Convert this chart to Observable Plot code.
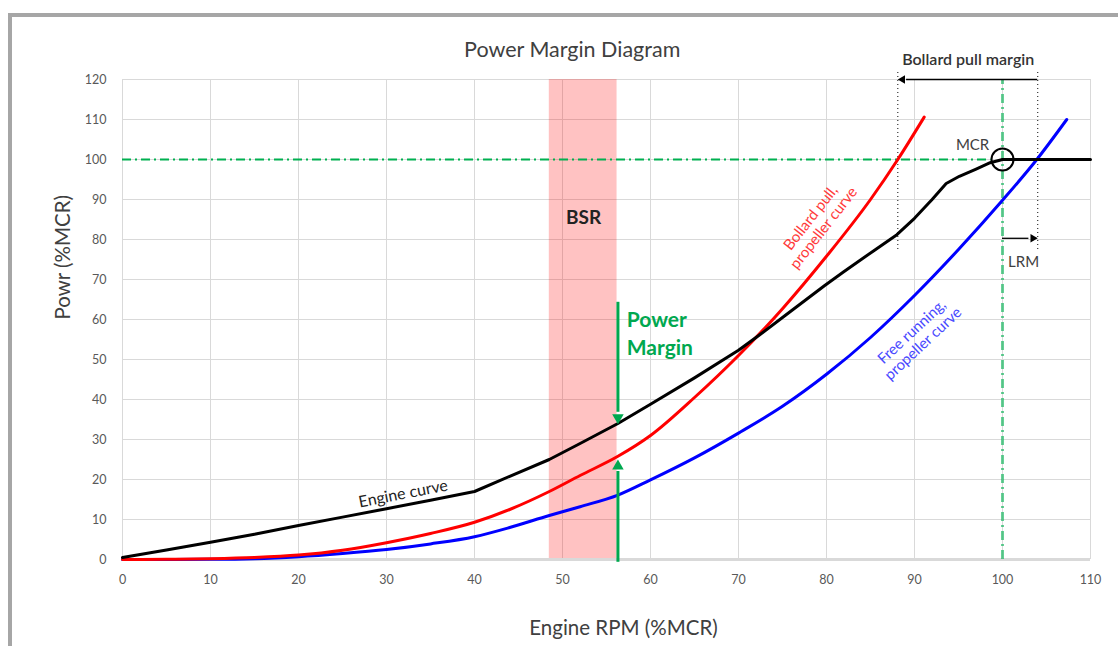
<!DOCTYPE html>
<html><head><meta charset="utf-8">
<script src="https://cdn.jsdelivr.net/npm/d3@7"></script>
<script src="https://cdn.jsdelivr.net/npm/@observablehq/plot@0.6"></script>
<style>
html,body{margin:0;padding:0;background:#fff;overflow:hidden;width:1118px;height:646px}
#frame{position:absolute;left:8px;top:13px;width:1200px;height:700px;border:4px solid #a6a6a6;box-sizing:border-box}
#chart{position:absolute;left:0;top:0}
</style></head><body>
<div id="frame"></div>
<div id="chart"></div>
<script>
// Data
const xTicks = [0, 10, 20, 30, 40, 50, 60, 70, 80, 90, 100, 110];
const yTicks = [0, 10, 20, 30, 40, 50, 60, 70, 80, 90, 100, 110, 120];

const engineRpm   = [0, 5, 10, 15, 20, 25, 30, 35, 40, 44, 48.5, 52, 56.3, 60, 65, 70, 72.3, 75.3, 79.8, 82, 85.5, 88, 90, 92, 93.6, 95.1, 97, 98.6, 100, 105, 110];
const enginePower = [0.5, 2.4, 4.3, 6.3, 8.5, 10.6, 12.7, 14.8, 17, 20.8, 25, 29, 34, 38.8, 45.4, 52.3, 56, 61, 68.5, 72, 77.4, 81.2, 85.3, 90, 94, 95.8, 97.6, 99.2, 100, 100, 100];

const bollardRpm   = [0, 5, 10, 15, 20, 25, 30, 35, 40, 44, 48.5, 52, 56.3, 60, 65, 70, 75, 80, 85, 88.1, 91.1];
const bollardPower = [0, 0.05, 0.2, 0.5, 1.1, 2.3, 4.2, 6.5, 9.3, 12.5, 17, 21, 25.8, 31, 40.5, 51, 62.7, 75.8, 90, 100, 110.6];

const freeRpm   = [0, 10, 15, 20, 25, 30, 35, 40, 44, 48.5, 52, 56.3, 60, 65, 70, 75, 80, 85, 90, 95, 100, 103.9, 107.3];
const freePower = [0, 0.05, 0.2, 0.7, 1.5, 2.5, 3.9, 5.7, 8, 11, 13.2, 16.1, 19.9, 25.4, 31.6, 38.3, 46.3, 55.5, 66, 77.5, 89.8, 100, 110];

const bsrRange = [48.5, 56.2];
const mcrPoint = [100, 100];
const bollardMarginRpm = [88.1, 104];
const lrmRpm = [100, 104];
const powerMarginRpm = 56.3;
const powerMarginTop = [64.3, 33.8];
const powerMarginBottom = [-0.7, 25];

const FONT = "Lato, 'Open Sans', sans-serif";
const green = "#00b050";
const arrowGreen = "#00a84f";

// pixel offsets converted to data units for arrow-head centroids
const yUnit = 120 / 480, xUnit = 110 / 968;

const chart = Plot.plot({
  width: 1118,
  height: 646,
  marginLeft: 122,
  marginRight: 28,
  marginTop: 79,
  marginBottom: 87,
  style: {fontFamily: FONT, background: "transparent", overflow: "visible"},
  x: {domain: [0, 110]},
  y: {domain: [0, 120]},
  marks: [
    // grid
    Plot.ruleY(yTicks, {stroke: "#d9d9d9", strokeWidth: 1}),
    Plot.ruleX(xTicks, {y1: 0, y2: 120, stroke: "#d9d9d9", strokeWidth: 1}),
    // BSR band
    Plot.rect([bsrRange], {x1: d => d[0], x2: d => d[1], y1: 0, y2: 120, fill: "#ff0000", fillOpacity: 0.24}),
    // x-axis baseline
    Plot.ruleY([0], {stroke: "#d9d9d9", strokeWidth: 3}),
    // MCR reference lines
    Plot.ruleY([mcrPoint[1]], {x1: 0, x2: 98.7, stroke: green, strokeWidth: 2, strokeDasharray: "9,4,2,4"}),
    Plot.ruleX([mcrPoint[0]], {y1: 0, y2: 120, stroke: green, strokeOpacity: 0.6, strokeWidth: 3, strokeDasharray: "9,4,2,4"}),
    // bollard pull margin dotted verticals
    Plot.ruleX(bollardMarginRpm, {y1: 77.5, y2: 122, stroke: "#333", strokeWidth: 1.2, strokeDasharray: "1,3"}),
    // curves
    Plot.line(freePower, {x: freeRpm, y: freePower, stroke: "#0000ff", strokeWidth: 3, curve: "monotone-x"}),
    Plot.line(bollardPower, {x: bollardRpm, y: bollardPower, stroke: "#ff0000", strokeWidth: 3, curve: "monotone-x"}),
    Plot.line(enginePower, {x: engineRpm, y: enginePower, stroke: "#000", strokeWidth: 3}),
    // MCR circle
    Plot.dot([mcrPoint], {x: d => d[0], y: d => d[1], r: 11, stroke: "#000", strokeWidth: 2, fill: "none"}),
    // black margin arrows (shaft + filled head)
    Plot.ruleY([120], {x1: bollardMarginRpm[0] + 1, x2: bollardMarginRpm[1], stroke: "#000", strokeWidth: 1.3}),
    Plot.dot([bollardMarginRpm], {x: d => d[0] + 4.8 * xUnit, y: 120, symbol: "triangle2", r: 4, rotate: -90, fill: "#000"}),
    Plot.ruleY([80.3], {x1: lrmRpm[0], x2: lrmRpm[1] - 1, stroke: "#000", strokeWidth: 1.3}),
    Plot.dot([lrmRpm], {x: d => d[1] - 4.8 * xUnit, y: 80.3, symbol: "triangle2", r: 4, rotate: 90, fill: "#000"}),
    // green power-margin arrows
    Plot.ruleX([powerMarginRpm], {y1: powerMarginTop[0], y2: powerMarginTop[1] + 3, stroke: arrowGreen, strokeWidth: 3}),
    Plot.dot([powerMarginTop], {x: powerMarginRpm, y: d => d[1] + 6.6 * yUnit, symbol: "triangle2", r: 5.5, rotate: 180, fill: arrowGreen}),
    Plot.ruleX([powerMarginRpm], {y1: powerMarginBottom[0], y2: powerMarginBottom[1] - 3, stroke: arrowGreen, strokeWidth: 3}),
    Plot.dot([powerMarginBottom], {x: powerMarginRpm, y: d => d[1] - 6.6 * yUnit, symbol: "triangle2", r: 5.5, fill: arrowGreen}),
    // axes
    Plot.axisX(xTicks, {tickSize: 0, tickPadding: 16, fontSize: 12.5, fill: "#595959", label: null}),
    Plot.axisY(yTicks, {tickSize: 0, tickPadding: 16, fontSize: 12.5, fill: "#595959", label: null}),
    // annotations
    Plot.text(["Power Margin Diagram"], {x: 51.1, y: 127.25, fontSize: 21.5, fill: "#404040"}),
    Plot.text(["Engine RPM (%MCR)"], {frameAnchor: "bottom", dx: 17, dy: 75, fontSize: 20.5, fill: "#404040"}),
    Plot.text(["Powr (%MCR)"], {frameAnchor: "left", dx: -59, rotate: -90, fontSize: 20.5, fill: "#404040"}),
    Plot.text(["BSR"], {x: 52.4, y: 85.5, fontSize: 19, fontWeight: "bold", fill: "#222"}),
    Plot.text(["Power\nMargin"], {x: 57.3, y: 56.75, textAnchor: "start", lineHeight: 1.33, fontSize: 21, fontWeight: "bold", fill: "#00a84f"}),
    Plot.text(["Engine curve"], {x: 31.9, y: 16.4, rotate: -11, fontSize: 16, fill: "#222"}),
    Plot.text(["Bollard pull,\npropeller curve"], {x: 78.9, y: 84.2, rotate: -52, fontSize: 15, lineHeight: 1.1, fill: "#ff3b3b"}),
    Plot.text(["Free running,\npropeller curve"], {x: 90.3, y: 55.5, rotate: -43, fontSize: 15, lineHeight: 1.1, fill: "#4a4aff"}),
    Plot.text(["MCR"], {x: 96.6, y: 103.5, fontSize: 15, fill: "#404040"}),
    Plot.text(["LRM"], {x: 102.4, y: 74.3, fontSize: 15, fill: "#404040"}),
    Plot.text(["Bollard pull margin"], {x: 96.1, y: 125, fontSize: 16, fontWeight: 600, fill: "#333"})
  ]
});
document.getElementById("chart").appendChild(chart);
</script>
</body></html>
